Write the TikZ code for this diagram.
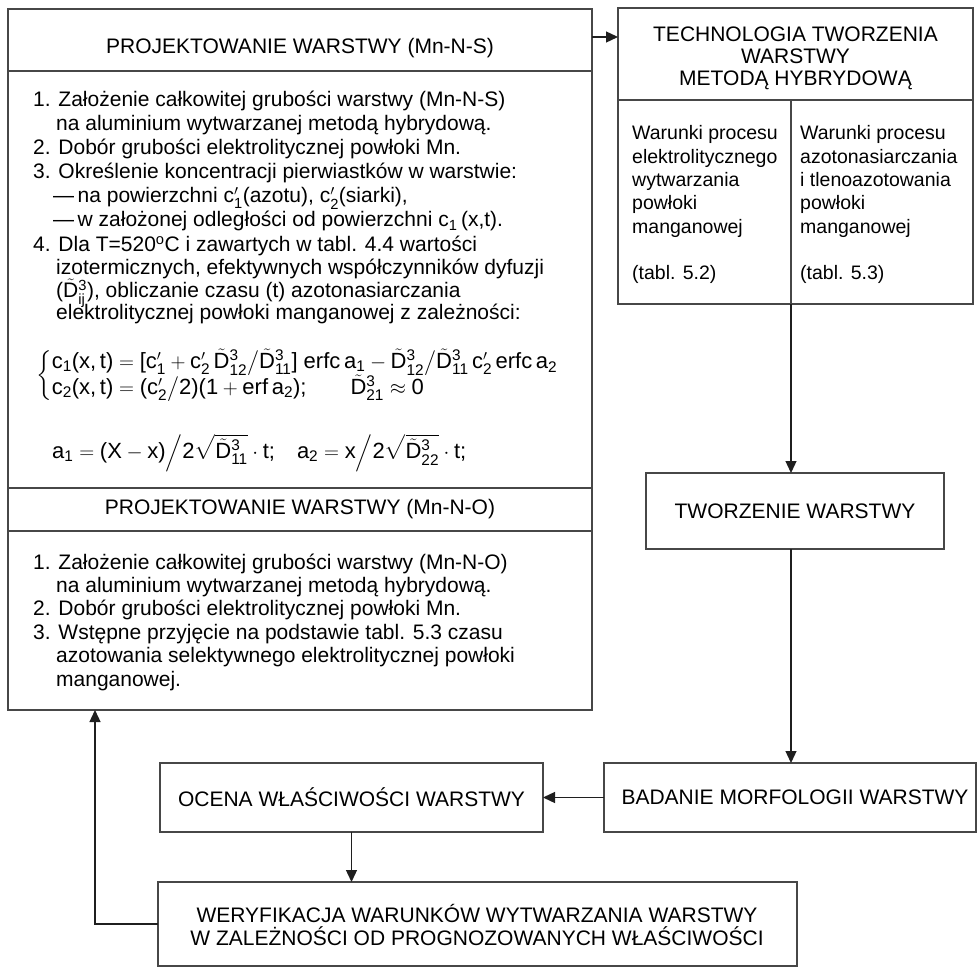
\documentclass[tikz,border=0pt]{standalone}
\usepackage{amsmath}
\usepackage{fontspec}
\setmainfont{Liberation Sans}
\usetikzlibrary{arrows.meta}
\newcommand{\tx}[1]{\text{#1}}
\newcommand{\sbx}[2]{\text{#1}_{\text{#2}}}
\newcommand{\cpr}[1]{\text{c}'_{\text{#1}}}
\newcommand{\DD}[1]{\smash[t]{\tilde{\text{D}}}^{\text{3}}_{\text{#1}}}
\newcommand{\DDq}[1]{\sqrt{\vphantom{\tilde{\text{D}}}\smash[b]{\DD{#1}}}}
\newcommand{\fsA}{\fontsize{21}{23}\selectfont}
\newcommand{\fsB}{\fontsize{19.5}{23}\selectfont}
\newcommand{\fsC}{\fontsize{22}{24}\selectfont}
\tikzset{
  box/.style={draw=black!72, line width=1.2pt, inner sep=0pt, outer sep=0pt, anchor=north west},
  conn/.style={draw=black!88, line width=1.3pt, -{Triangle[length=12pt,width=11pt]}},
  txt/.style={inner sep=0pt, anchor=base west, font=\fsA},
  ctxt/.style={inner sep=0pt, anchor=base west, font=\fsB},
  lbl/.style={inner sep=0pt, font=\fsA, align=center},
  frm/.style={inner sep=0pt, anchor=west, font=\fsC},
}
\begin{document}
\begin{tikzpicture}[x=1pt,y=-1pt]
\useasboundingbox (0,0) rectangle (978,968);
% left compound box
\node[box, minimum width=584pt, minimum height=62pt] (L1) at (8,9) {};
\node[box, minimum width=584pt, minimum height=417pt] (L2) at (8,71) {};
\node[box, minimum width=584pt, minimum height=43pt] (L3) at (8,488) {};
\node[box, minimum width=584pt, minimum height=179pt] (L4) at (8,531) {};
% right top compound box
\node[box, minimum width=355pt, minimum height=92pt] (R1) at (618,8) {};
\node[box, minimum width=173pt, minimum height=204pt] (R2) at (618,100) {};
\node[box, minimum width=182pt, minimum height=204pt] (R3) at (791,100) {};
% other boxes
\node[box, minimum width=298pt, minimum height=76pt] (T) at (646,473) {};
\node[box, minimum width=372pt, minimum height=69pt] (B) at (604,763) {};
\node[box, minimum width=383pt, minimum height=69pt] (O) at (160,763) {};
\node[box, minimum width=639pt, minimum height=84pt] (W) at (158,882) {};

% titles / labels
\node[lbl] (t1) at (300,48) {PROJEKTOWANIE WARSTWY (Mn-N-S)};
\node[lbl] (t2) at (300,509) {PROJEKTOWANIE WARSTWY (Mn-N-O)};
\node[txt, anchor=base] (r1a) at (795.5,42) {TECHNOLOGIA TWORZENIA};
\node[txt, anchor=base] (r1b) at (795.5,64) {WARSTWY};
\node[txt, anchor=base] (r1c) at (795.5,86) {METODĄ HYBRYDOWĄ};
\node[lbl] (tw) at (T.center) {TWORZENIE WARSTWY};
\node[lbl] (bm) at ([xshift=5pt]B.center) {BADANIE MORFOLOGII WARSTWY};
\node[lbl] (oc) at (O.center) {OCENA WŁAŚCIWOŚCI WARSTWY};
\node[txt, anchor=base] (wa) at (477,922) {WERYFIKACJA WARUNKÓW WYTWARZANIA WARSTWY};
\node[txt, anchor=base] (wb) at (477,945) {W ZALEŻNOŚCI OD PROGNOZOWANYCH WŁAŚCIWOŚCI};

% right columns
\node[ctxt] (ca1) at (632,140) {Warunki procesu};
\node[ctxt] (ca2) at (632,163.3) {elektrolitycznego};
\node[ctxt] (ca3) at (632,186.6) {wytwarzania};
\node[ctxt] (ca4) at (632,210) {powłoki};
\node[ctxt] (ca5) at (632,233.3) {manganowej};
\node[ctxt] (ca6) at (632,280) {(tabl. 5.2)};
\node[ctxt] (cb1) at (800,140) {Warunki procesu};
\node[ctxt] (cb2) at (800,163.3) {azotonasiarczania};
\node[ctxt] (cb3) at (800,186.6) {i tlenoazotowania};
\node[ctxt] (cb4) at (800,210) {powłoki};
\node[ctxt] (cb5) at (800,233.3) {manganowej};
\node[ctxt] (cb6) at (800,280) {(tabl. 5.3)};

% Mn-N-S body
\node[txt] (m1) at (33,107) {1. Założenie całkowitej grubości warstwy (Mn-N-S)};
\node[txt] (m2) at (56,131) {na aluminium wytwarzanej metodą hybrydową.};
\node[txt] (m3) at (33,155) {2. Dobór grubości elektrolitycznej powłoki Mn.};
\node[txt] (m4) at (33,179) {3. Określenie koncentracji pierwiastków w warstwie:};
\node[txt] (m5) at (53,203) {—\,na powierzchni $\cpr{1}$(azotu), $\cpr{2}$(siarki),};
\node[txt] (m6) at (53,227) {—\,w założonej odległości od powierzchni c\textsubscript{1}\,(x,t).};
\node[txt] (m7) at (33,252) {4. Dla T=520\textsuperscript{o}C i zawartych w tabl. 4.4 wartości};
\node[txt] (m8) at (56,275) {izotermicznych, efektywnych współczynników dyfuzji};
\node[txt] (m9) at (56,298) {($\DD{ij}$), obliczanie czasu (t) azotonasiarczania};
\node[txt] (m10) at (56,320) {elektrolitycznej powłoki manganowej z zależności:};
\node[frm] (f1) at (36,376)
 {$\renewcommand{\arraystretch}{1.05}\left\{\begin{array}{@{}l@{}}
 \sbx{c}{1}\tx{(x,\,t)} = \tx{[}\cpr{1} + \cpr{2}\,\DD{12}\big/\DD{11}\tx{]\ erfc\,}\sbx{a}{1} - \DD{12}\big/\DD{11}\,\cpr{2}\,\tx{erfc\,}\sbx{a}{2}\\
 \sbx{c}{2}\tx{(x,\,t)} = \tx{(}\cpr{2}\big/\tx{2)(1}+\tx{erf\,}\sbx{a}{2}\tx{);}\qquad \DD{21}\approx \tx{0}
 \end{array}\right.$};
\node[frm] (f2) at (52,453)
 {$\sbx{a}{1} = \tx{(X}-\tx{x)}\Big/\tx{2}\DDq{11}\cdot\tx{t;}\quad \sbx{a}{2} = \tx{x}\Big/\tx{2}\DDq{22}\cdot\tx{t;}$};

% Mn-N-O body
\node[txt] (n1) at (33,569) {1. Założenie całkowitej grubości warstwy (Mn-N-O)};
\node[txt] (n2) at (56,592) {na aluminium wytwarzanej metodą hybrydową.};
\node[txt] (n3) at (33,615) {2. Dobór grubości elektrolitycznej powłoki Mn.};
\node[txt] (n4) at (33,639) {3. Wstępne przyjęcie na podstawie tabl. 5.3 czasu};
\node[txt] (n5) at (56,662) {azotowania selektywnego elektrolitycznej powłoki};
\node[txt] (n6) at (56,686) {manganowej.};

% connectors
\draw[conn] ([yshift=3pt]L1.east) -- ([yshift=3pt]L1.east -| R1.west);
\draw[conn] (R2.south east) -- (R2.south east |- T.north);
\draw[conn] (R2.south east |- T.south) -- (R2.south east |- B.north);
\draw[conn] (B.west) -- (O.east);
\draw[conn] (O.south) -- (O.south |- W.north);
\coordinate (fb) at (95,924);
\draw[conn] (W.west) -- (W.west -| fb) -- (fb |- L4.south);
\end{tikzpicture}
\end{document}
